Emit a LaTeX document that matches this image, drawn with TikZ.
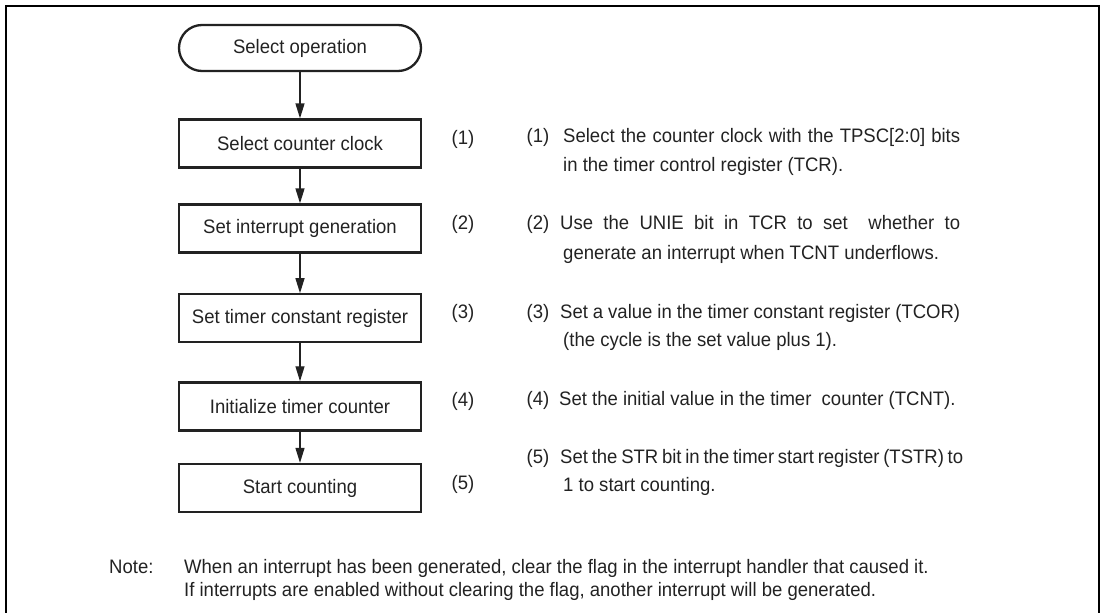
\documentclass[tikz,border=0pt]{standalone}
\usepackage{fontspec}
\setmainfont[FakeStretch=0.95]{Liberation Sans}
\usetikzlibrary{arrows.meta}
\definecolor{ink}{HTML}{222222}
\begin{document}
\begin{tikzpicture}[x=1pt,y=-1pt,
  font=\fontsize{19.5}{23}\selectfont, text=ink,
  box/.style={draw=ink, line width=2.3pt, minimum width=242pt, minimum height=48pt, inner sep=0pt},
  term/.style={box, rounded corners=23pt, minimum height=46pt},
  flow/.style={draw=ink, line width=1.3pt, -{Triangle[length=15pt,width=9pt]}},
  num/.style={anchor=base, inner sep=0pt},
  txt/.style={anchor=base west, inner sep=0pt},
]
\useasboundingbox (0,0) rectangle (1103,613);
\draw[line width=2pt] (6,615) -- (6,6) -- (1099,6) -- (1099,615);

\node[term] (s) at (300,48) {Select operation};
\node[box] (b1) at (300,143.5) {Select counter clock};
\node[box] (b2) at (300,228.5) {Set interrupt generation};
\node[box] (b3) at (300,318.3) {Set timer constant register};
\node[box] (b4) at (300,406.4) {Initialize timer counter};
\node[box] (b5) at (300,488) {Start counting};

\draw[flow] (s) -- (b1);
\draw[flow] (b1) -- (b2);
\draw[flow] (b2) -- (b3);
\draw[flow] (b3) -- (b4);
\draw[flow] (b4) -- (b5);

\node[num] (n1) at (463,144.5) {(1)};
\node[num] (n2) at (463,229.2) {(2)};
\node[num] (n3) at (463,318.2) {(3)};
\node[num] (n4) at (463,406.5) {(4)};
\node[num] (n5) at (463,489.8) {(5)};

\node[num] (m1) at (538,142.5) {(1)};
\node[txt] (t1a) at (563,142.5) {\makebox[397pt][s]{Select the counter clock with the TPSC[2:0] bits}};
\node[txt] (t1b) at (563,171.5) {in the timer control register (TCR).};

\node[num] (m2) at (538,229.5) {(2)};
\node[txt] (t2a) at (560,229.5) {\makebox[400pt][s]{Use the UNIE bit in TCR to set \ whether to}};
\node[txt] (t2b) at (563,259.5) {generate an interrupt when TCNT underflows.};

\node[num] (m3) at (538,318) {(3)};
\node[txt] (t3a) at (560,318) {\makebox[400pt][s]{Set a value in the timer constant register (TCOR)}};
\node[txt] (t3b) at (563,346.5) {(the cycle is the set value plus 1).};

\node[num] (m4) at (538,405) {(4)};
\node[txt] (t4a) at (559,405) {Set the initial value in the timer \ counter (TCNT).};

\node[num] (m5) at (538,463) {(5)};
\node[txt] (t5a) at (560,463) {\makebox[403pt][s]{Set the STR bit in the timer start register (TSTR) to}};
\node[txt] (t5b) at (563,491.5) {1 to start counting.};

\node[txt] (note) at (109,573.5) {Note:};
\node[txt] (nl1) at (184,573.5) {When an interrupt has been generated, clear the flag in the interrupt handler that caused it.};
\node[txt] (nl2) at (184,596.5) {If interrupts are enabled without clearing the flag, another interrupt will be generated.};
\end{tikzpicture}
\end{document}
